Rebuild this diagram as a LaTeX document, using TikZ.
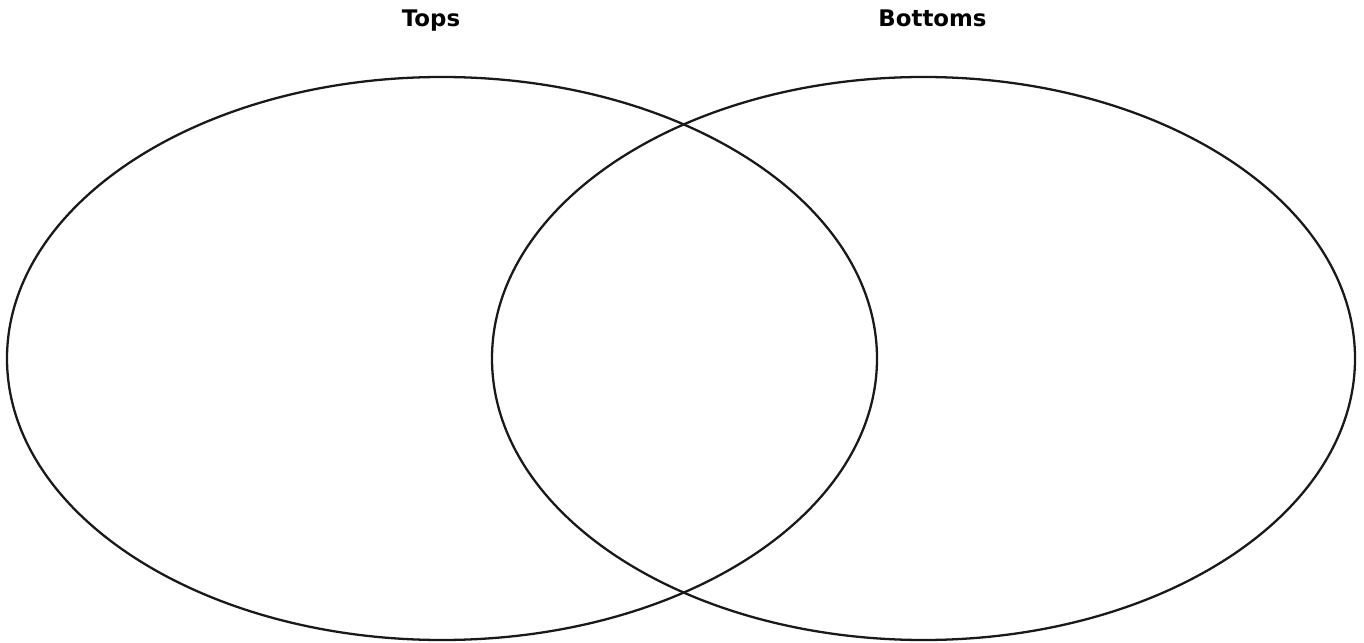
\documentclass[tikz,border=0pt]{standalone}
\usepackage{fontspec}
\newfontfamily\labelfont{DejaVu Sans}
\tikzset{
  setline/.style={line width=1.3pt, black!90},
  setlabel/.style={anchor=base, font=\labelfont\bfseries\fontsize{13}{15}\selectfont}
}
\begin{document}
\begin{tikzpicture}
  \useasboundingbox (0,0) rectangle (27.28,12.84);
  % Sets
  \draw[setline] (8.84,5.67) ellipse [x radius=8.70, y radius=5.63];
  \draw[setline] (18.47,5.67) ellipse [x radius=8.63, y radius=5.63];
  % Titles
  \node[setlabel] (tops) at (8.62,12.30) {Tops};
  \node[setlabel] (bottoms) at (18.65,12.30) {Bottoms};
\end{tikzpicture}
\end{document}
